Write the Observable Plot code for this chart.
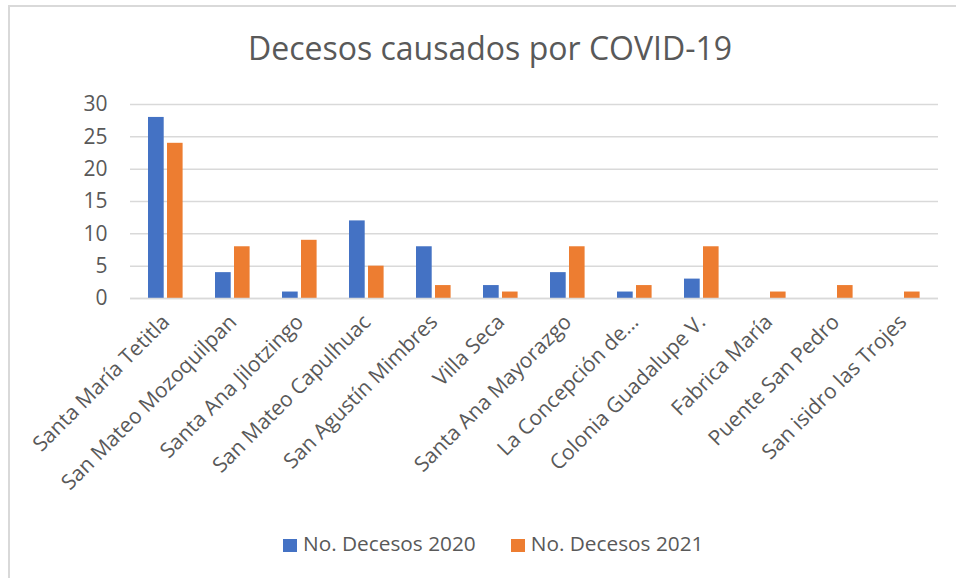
<!DOCTYPE html>
<html><head><meta charset="utf-8">
<script src="https://cdn.jsdelivr.net/npm/d3@7"></script>
<script src="https://cdn.jsdelivr.net/npm/@observablehq/plot@0.6"></script>
<style>
body{margin:0;background:#fff;font-family:"Open Sans",sans-serif;}
#wrap{position:relative;width:956px;height:578px;overflow:hidden;}
#frame{position:absolute;left:8px;top:5px;width:1000px;height:600px;border-left:2px solid #d9d9d9;border-top:2px solid #d9d9d9;}
#title{position:absolute;left:0;width:980px;top:28px;text-align:center;font-size:32px;line-height:40px;color:#595959;}
#chart{position:absolute;left:0;top:0;}
#legend{position:absolute;top:529px;left:283px;font-size:20.8px;line-height:28px;color:#595959;white-space:nowrap;}
.sw{display:inline-block;width:14px;height:13px;margin-right:6px;vertical-align:-1px;}
.item{display:inline-block;}
</style>
</head><body>
<div id="wrap">
<div id="frame"></div>
<div id="title">Decesos causados por COVID-19</div>
<div id="chart"></div>
<div id="legend"></div>
</div>
<script>
const categories = ["Santa María Tetitla","San Mateo Mozoquilpan","Santa Ana Jilotzingo","San Mateo Capulhuac","San Agustín Mimbres","Villa Seca","Santa Ana Mayorazgo","La Concepción de...","Colonia Guadalupe V.","Fabrica María","Puente San Pedro","San isidro las Trojes"];
const deaths2020 = [28,4,1,12,8,2,4,1,3,0,0,0];
const deaths2021 = [24,8,9,5,2,1,8,2,8,1,2,1];
const seriesNames = ["No. Decesos 2020","No. Decesos 2021"];
const seriesColors = ["#4472C4","#ED7D31"];
const yTicks = [0,5,10,15,20,25,30];

const d20 = categories.map((c,i)=>({cat:c, value:deaths2020[i], series:seriesNames[0]}));
const d21 = categories.map((c,i)=>({cat:c, value:deaths2021[i], series:seriesNames[1]}));

const chart = Plot.plot({
  width:956, height:500,
  marginLeft:130, marginRight:18, marginTop:104, marginBottom:202,
  style:{fontFamily:"Open Sans, sans-serif", color:"#595959", background:"transparent"},
  x:{domain:categories, padding:0},
  y:{domain:[0,30]},
  color:{domain:seriesNames, range:seriesColors},
  marks:[
    Plot.gridY(yTicks,{stroke:"#d9d9d9", strokeOpacity:1, strokeWidth:1.5}),
    Plot.axisY(yTicks,{tickSize:0, tickPadding:23, fontSize:21, fill:"#595959", label:null}),
    Plot.axisX({tickSize:0, tickPadding:20, tickRotate:-45, fontSize:21, fill:"#595959", label:null}),
    Plot.barY(d20,{x:"cat", y:"value", fill:"series", insetLeft:16, insetRight:35.3}),
    Plot.barY(d21,{x:"cat", y:"value", fill:"series", insetLeft:35, insetRight:16.4}),
    Plot.ruleY([0],{stroke:"#d9d9d9", strokeWidth:1.5})
  ]
});
document.getElementById("chart").appendChild(chart);

const leg = document.getElementById("legend");
seriesNames.forEach((n,i)=>{
  const it = document.createElement("span");
  it.className="item";
  if(i>0) it.style.marginLeft="35px";
  const sw = document.createElement("span");
  sw.className="sw"; sw.style.background=seriesColors[i];
  it.appendChild(sw);
  it.appendChild(document.createTextNode(n));
  leg.appendChild(it);
});
</script>
</body></html>
